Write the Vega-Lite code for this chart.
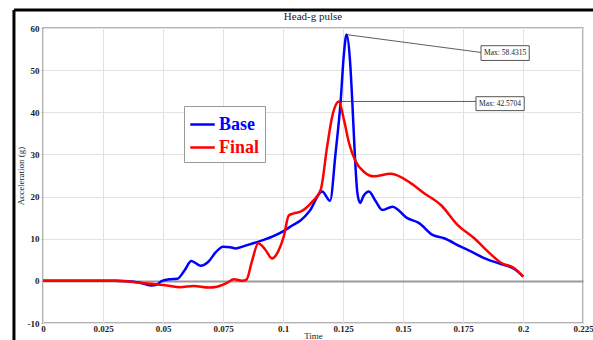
{
  "$schema": "https://vega.github.io/schema/vega-lite/v6.json",
  "width": 540,
  "height": 295,
  "autosize": {"type": "none"},
  "padding": {"left": 43, "top": 28, "right": 10, "bottom": 17},
  "background": "white",
  "title": {"text": "Head-g pulse", "font": "Liberation Serif", "fontSize": 11, "fontWeight": "normal", "color": "#222", "anchor": "middle", "offset": 5, "dy": 19},
  "config": {
    "view": {"stroke": "#9a9a9a", "strokeWidth": 1.5},
    "axis": {"labelFont": "Liberation Serif", "labelFontWeight": "bold", "labelFontSize": 9, "labelColor": "#222", "titleFont": "Liberation Serif", "titleFontWeight": "normal", "titleFontSize": 9, "titleColor": "#222", "domain": false}
  },
  "layer": [
    {
      "data": {"values": [
        {"x": -0.0121, "x2": 0.2296, "y": 64.3, "y2": 64.3},
        {"x": -0.0121, "x2": -0.0121, "y": 64.3, "y2": -14.5}
      ]},
      "mark": {"type": "rule", "color": "black", "strokeWidth": 3, "clip": false},
      "encoding": {
        "x": {"field": "x", "type": "quantitative", "scale": {"domain": [0, 0.225], "nice": false, "zero": false},
          "axis": {"values": [0,0.0125,0.025,0.0375,0.05,0.0625,0.075,0.0875,0.1,0.1125,0.125,0.1375,0.15,0.1625,0.175,0.1875,0.2,0.2125,0.225],
            "title": "Time", "titlePadding": -2, "labelPadding": 1, "ticks": false, "labelFlush": false,
            "labelExpr": "round(datum.value*80)%2==1 ? '' : format(datum.value, '~g')",
            "gridColor": {"condition": {"test": "round(datum.value*80)%2==1", "value": "#ececec"}, "value": "#e2e2e2"},
            "gridDash": {"condition": {"test": "round(datum.value*80)%2==1", "value": [2, 2]}, "value": []},
            "gridWidth": 1}},
        "x2": {"field": "x2"},
        "y": {"field": "y", "type": "quantitative", "scale": {"domain": [-10, 60], "nice": false, "zero": false},
          "axis": {"values": [-10,-5,0,5,10,15,20,25,30,35,40,45,50,55,60],
            "title": "Acceleration (g)", "titlePadding": 2, "labelPadding": 2, "tickSize": 2, "tickColor": "#aaa", "labelFlush": false,
            "labelExpr": "datum.value % 10 == 0 ? datum.value : ''",
            "tickOpacity": {"condition": {"test": "datum.value % 10 != 0", "value": 0}, "value": 1},
            "gridColor": {"condition": {"test": "datum.value == 0", "value": "#9a9a9a"}, "value": "#e2e2e2"},
            "gridDash": {"condition": {"test": "datum.value % 10 != 0", "value": [2, 2]}, "value": []},
            "gridWidth": {"condition": {"test": "datum.value == 0", "value": 2}, "value": 1}}},
        "y2": {"field": "y2"}
      }
    },
    {
      "data": {"values": [
        {"series": "Base", "t": 0, "g": 0},
        {"series": "Base", "t": 0.01, "g": 0},
        {"series": "Base", "t": 0.02, "g": 0.05},
        {"series": "Base", "t": 0.03, "g": 0},
        {"series": "Base", "t": 0.035, "g": -0.1},
        {"series": "Base", "t": 0.04, "g": -0.4},
        {"series": "Base", "t": 0.045, "g": -1.1},
        {"series": "Base", "t": 0.047, "g": -1.0},
        {"series": "Base", "t": 0.0496, "g": 0},
        {"series": "Base", "t": 0.053, "g": 0.4},
        {"series": "Base", "t": 0.056, "g": 0.5},
        {"series": "Base", "t": 0.059, "g": 2.5},
        {"series": "Base", "t": 0.0618, "g": 4.7},
        {"series": "Base", "t": 0.0656, "g": 3.6},
        {"series": "Base", "t": 0.069, "g": 4.6},
        {"series": "Base", "t": 0.072, "g": 6.8},
        {"series": "Base", "t": 0.075, "g": 8.1},
        {"series": "Base", "t": 0.078, "g": 8.0},
        {"series": "Base", "t": 0.0802, "g": 7.7},
        {"series": "Base", "t": 0.084, "g": 8.3},
        {"series": "Base", "t": 0.0892, "g": 9.2},
        {"series": "Base", "t": 0.096, "g": 10.6},
        {"series": "Base", "t": 0.1002, "g": 11.8},
        {"series": "Base", "t": 0.104, "g": 13.2},
        {"series": "Base", "t": 0.1073, "g": 14.3},
        {"series": "Base", "t": 0.111, "g": 16.5},
        {"series": "Base", "t": 0.1163, "g": 21.2},
        {"series": "Base", "t": 0.1196, "g": 19.0},
        {"series": "Base", "t": 0.1219, "g": 30.3},
        {"series": "Base", "t": 0.124, "g": 42.5},
        {"series": "Base", "t": 0.1254, "g": 54.0},
        {"series": "Base", "t": 0.1265, "g": 58.43},
        {"series": "Base", "t": 0.1279, "g": 52.4},
        {"series": "Base", "t": 0.1289, "g": 42.2},
        {"series": "Base", "t": 0.1299, "g": 30.3},
        {"series": "Base", "t": 0.131, "g": 20.8},
        {"series": "Base", "t": 0.1321, "g": 18.5},
        {"series": "Base", "t": 0.1336, "g": 20.2},
        {"series": "Base", "t": 0.1358, "g": 21.2},
        {"series": "Base", "t": 0.1385, "g": 19.0},
        {"series": "Base", "t": 0.1414, "g": 16.8},
        {"series": "Base", "t": 0.1456, "g": 17.6},
        {"series": "Base", "t": 0.1518, "g": 14.9},
        {"series": "Base", "t": 0.1567, "g": 13.7},
        {"series": "Base", "t": 0.1623, "g": 10.9},
        {"series": "Base", "t": 0.1671, "g": 10.1},
        {"series": "Base", "t": 0.1741, "g": 8.1},
        {"series": "Base", "t": 0.1783, "g": 7.0},
        {"series": "Base", "t": 0.1838, "g": 5.4},
        {"series": "Base", "t": 0.1908, "g": 4.0},
        {"series": "Base", "t": 0.1964, "g": 2.8},
        {"series": "Base", "t": 0.2001, "g": 1.0},
        {"series": "Final", "t": 0, "g": 0},
        {"series": "Final", "t": 0.01, "g": 0},
        {"series": "Final", "t": 0.02, "g": 0},
        {"series": "Final", "t": 0.03, "g": 0},
        {"series": "Final", "t": 0.035, "g": -0.1},
        {"series": "Final", "t": 0.0376, "g": -0.3},
        {"series": "Final", "t": 0.045, "g": -0.7},
        {"series": "Final", "t": 0.0516, "g": -1.1},
        {"series": "Final", "t": 0.0572, "g": -1.5},
        {"series": "Final", "t": 0.0628, "g": -1.2},
        {"series": "Final", "t": 0.069, "g": -1.6},
        {"series": "Final", "t": 0.0725, "g": -1.4},
        {"series": "Final", "t": 0.0767, "g": -0.5},
        {"series": "Final", "t": 0.0795, "g": 0.4},
        {"series": "Final", "t": 0.083, "g": 0},
        {"series": "Final", "t": 0.0848, "g": 0.3},
        {"series": "Final", "t": 0.087, "g": 4.5},
        {"series": "Final", "t": 0.0897, "g": 8.9},
        {"series": "Final", "t": 0.0925, "g": 7.5},
        {"series": "Final", "t": 0.0955, "g": 5.3},
        {"series": "Final", "t": 0.098, "g": 7.0},
        {"series": "Final", "t": 0.1003, "g": 10.5},
        {"series": "Final", "t": 0.1024, "g": 15.5},
        {"series": "Final", "t": 0.1045, "g": 16.0},
        {"series": "Final", "t": 0.1073, "g": 16.4},
        {"series": "Final", "t": 0.1122, "g": 18.8},
        {"series": "Final", "t": 0.1157, "g": 21.6},
        {"series": "Final", "t": 0.1184, "g": 31.9},
        {"series": "Final", "t": 0.1205, "g": 39.0},
        {"series": "Final", "t": 0.1233, "g": 42.57},
        {"series": "Final", "t": 0.1254, "g": 38.2},
        {"series": "Final", "t": 0.1275, "g": 32.7},
        {"series": "Final", "t": 0.1303, "g": 28.3},
        {"series": "Final", "t": 0.1337, "g": 25.9},
        {"series": "Final", "t": 0.1379, "g": 24.8},
        {"series": "Final", "t": 0.1449, "g": 25.4},
        {"series": "Final", "t": 0.1532, "g": 23.2},
        {"series": "Final", "t": 0.1588, "g": 20.8},
        {"series": "Final", "t": 0.1658, "g": 18.0},
        {"series": "Final", "t": 0.1727, "g": 13.3},
        {"series": "Final", "t": 0.1797, "g": 10.1},
        {"series": "Final", "t": 0.1853, "g": 7.0},
        {"series": "Final", "t": 0.1908, "g": 4.3},
        {"series": "Final", "t": 0.1964, "g": 3.0},
        {"series": "Final", "t": 0.2001, "g": 1.0}
      ]},
      "mark": {"type": "line", "interpolate": "monotone", "strokeWidth": 2.5},
      "encoding": {
        "x": {"field": "t", "type": "quantitative"},
        "y": {"field": "g", "type": "quantitative"},
        "color": {"field": "series", "type": "nominal", "scale": {"domain": ["Base", "Final"], "range": ["#0000ff", "#ff0000"]},
          "legend": {"title": null, "orient": "none", "legendX": 141, "legendY": 78, "strokeColor": "#999", "fillColor": "white", "padding": 5,
            "symbolType": "stroke", "symbolStrokeWidth": 2.5, "symbolSize": 600, "labelFont": "Liberation Serif", "labelFontSize": 18, "labelFontWeight": "bold",
            "labelOffset": 3, "rowPadding": 0, "labelLimit": 200,
            "encode": {"labels": {"update": {"fill": {"signal": "datum.value === 'Base' ? '#0000ff' : '#ff0000'"}}}}}}
      }
    },
    {
      "data": {"values": [
        {"x": 0.1265, "x2": 0.1825, "y": 58.43, "y2": 54.2},
        {"x": 0.1236, "x2": 0.1804, "y": 42.57, "y2": 42.57}
      ]},
      "mark": {"type": "rule", "color": "#333", "strokeWidth": 0.8},
      "encoding": {"x": {"field": "x", "type": "quantitative"}, "x2": {"field": "x2"}, "y": {"field": "y", "type": "quantitative"}, "y2": {"field": "y2"}}
    },
    {
      "data": {"values": [
        {"x": 0.1825, "x2": 0.2026, "y": 55.8, "y2": 52.3, "tx": 0.19255, "ty": 54.05, "label": "Max: 58.4315"},
        {"x": 0.1804, "x2": 0.2005, "y": 43.7, "y2": 40.4, "tx": 0.19045, "ty": 42.05, "label": "Max: 42.5704"}
      ]},
      "layer": [
        {"mark": {"type": "rect", "fill": "white", "stroke": "#555", "strokeWidth": 1},
         "encoding": {"x": {"field": "x", "type": "quantitative"}, "x2": {"field": "x2"}, "y": {"field": "y", "type": "quantitative"}, "y2": {"field": "y2"}}},
        {"mark": {"type": "text", "font": "Liberation Serif", "fontSize": 7.5, "color": "#222", "align": "center", "baseline": "middle"},
         "encoding": {"x": {"field": "tx", "type": "quantitative"}, "y": {"field": "ty", "type": "quantitative"}, "text": {"field": "label"}}}
      ]
    }
  ]
}
